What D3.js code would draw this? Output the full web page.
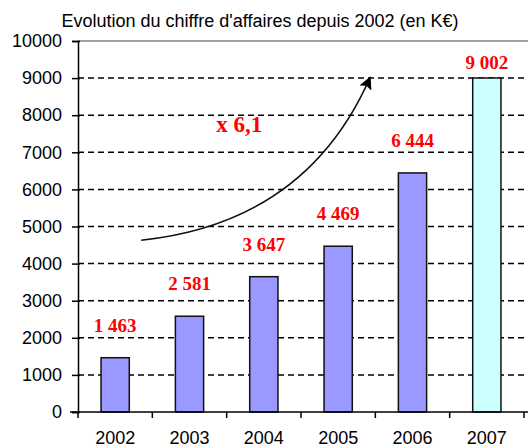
<!DOCTYPE html>
<html>
<head>
<meta charset="utf-8">
<script src="https://cdn.jsdelivr.net/npm/d3@7"></script>
<style>
  body { margin: 0; background: #fff; }
  svg { display: block; }
</style>
</head>
<body>
<div id="chart"></div>
<script>
const years = ['2002', '2003', '2004', '2005', '2006', '2007'];
const revenue = [1463, 2581, 3647, 4469, 6444, 9002];
const valueLabels = ['1 463', '2 581', '3 647', '4 469', '6 444', '9 002'];
const yTicks = [0, 1000, 2000, 3000, 4000, 5000, 6000, 7000, 8000, 9000, 10000];
const title = "Evolution du chiffre d'affaires depuis 2002 (en K\u20ac)";
const growthLabel = 'x 6,1';
// growth arrow, in data units: [band position (0..6), value]
const arrowStart = [0.85, 4630];
const arrowCtrl = [3.07, 5100];
const arrowEnd = [3.93, 9020];
const growthLabelAt = [2.17, 7550];

const W = 528, H = 447;
const margin = { top: 41, right: 4, bottom: 35, left: 78 };
const width = W - margin.left - margin.right;
const height = H - margin.top - margin.bottom;

const svg = d3.select('#chart').append('svg')
  .attr('width', W)
  .attr('height', H);

svg.append('text')
  .attr('x', 260)
  .attr('y', 27)
  .attr('text-anchor', 'middle')
  .attr('font-family', 'Liberation Sans, Arial, sans-serif')
  .attr('font-size', 18)
  .attr('fill', '#000')
  .text(title);

const g = svg.append('g')
  .attr('transform', `translate(${margin.left},${margin.top})`);

const x = d3.scaleBand()
  .domain(years)
  .range([0, width])
  .paddingInner(0.62)
  .paddingOuter(0.31);

const y = d3.scaleLinear()
  .domain([0, 10000])
  .range([height, 0]);

// continuous position along the category axis, for the annotation
const xPos = d3.scaleLinear().domain([0, years.length]).range([0, width]);

// gridlines
g.append('g')
  .selectAll('line')
  .data(yTicks.filter(d => d > 0 && d < 10000))
  .enter().append('line')
  .attr('x1', 0)
  .attr('x2', W - margin.left)
  .attr('y1', d => y(d))
  .attr('y2', d => y(d))
  .attr('stroke', '#000')
  .attr('stroke-width', 1.5)
  .attr('stroke-dasharray', '6,4');

// top border of plot area
g.append('line')
  .attr('x1', 0)
  .attr('x2', W - margin.left)
  .attr('y1', y(10000))
  .attr('y2', y(10000))
  .attr('stroke', '#808080')
  .attr('stroke-width', 1.5);

// bars
g.selectAll('rect.bar')
  .data(revenue)
  .enter().append('rect')
  .attr('class', 'bar')
  .attr('x', (d, i) => x(years[i]))
  .attr('y', d => y(d))
  .attr('width', x.bandwidth())
  .attr('height', d => height - y(d))
  .attr('fill', (d, i) => i === years.length - 1 ? '#CCFFFF' : '#9999FF')
  .attr('stroke', '#111')
  .attr('stroke-width', 1.5);

// value labels
g.selectAll('text.val')
  .data(revenue)
  .enter().append('text')
  .attr('class', 'val')
  .attr('x', (d, i) => x(years[i]) + x.bandwidth() / 2)
  .attr('y', (d, i) => y(d) - (i === years.length - 1 ? 9 : 26))
  .attr('text-anchor', 'middle')
  .attr('font-family', 'Liberation Serif, Times New Roman, serif')
  .attr('font-weight', 'bold')
  .attr('font-size', 19)
  .attr('fill', '#FF0000')
  .text((d, i) => valueLabels[i]);

// y axis
const yAxis = g.append('g')
  .call(d3.axisLeft(y).tickValues(yTicks).tickSize(6).tickPadding(10).tickFormat(d3.format('d')));
yAxis.select('.domain').attr('stroke', '#000').attr('stroke-width', 1.5);
yAxis.selectAll('.tick line').attr('stroke', '#000').attr('stroke-width', 1.5).attr('x2', -6).attr('x1', 2);
yAxis.selectAll('text')
  .attr('font-family', 'Liberation Sans, Arial, sans-serif')
  .attr('font-size', 18)
  .attr('fill', '#000');

// x axis: ticks at category boundaries
const xAxisG = g.append('g').attr('transform', `translate(0,${height})`);
xAxisG.append('line')
  .attr('x1', -8)
  .attr('x2', W - margin.left)
  .attr('stroke', '#000')
  .attr('stroke-width', 1.5);
xAxisG.selectAll('line.tk')
  .data(d3.range(years.length + 1))
  .enter().append('line')
  .attr('class', 'tk')
  .attr('x1', d => xPos(d))
  .attr('x2', d => xPos(d))
  .attr('y1', 0)
  .attr('y2', 6)
  .attr('stroke', '#000')
  .attr('stroke-width', 1.5);
xAxisG.selectAll('text')
  .data(years)
  .enter().append('text')
  .attr('x', d => x(d) + x.bandwidth() / 2)
  .attr('y', 32)
  .attr('text-anchor', 'middle')
  .attr('font-family', 'Liberation Sans, Arial, sans-serif')
  .attr('font-size', 18)
  .attr('fill', '#000')
  .text(d => d);

// growth arrow
svg.append('defs').append('marker')
  .attr('id', 'head')
  .attr('viewBox', '0 0 10 10')
  .attr('refX', 9)
  .attr('refY', 5)
  .attr('markerWidth', 13)
  .attr('markerHeight', 13)
  .attr('markerUnits', 'userSpaceOnUse')
  .attr('orient', 'auto')
  .append('path')
  .attr('d', 'M0,0 L10,5 L0,10 L2,5 z')
  .attr('fill', '#000');

const path = d3.path();
path.moveTo(xPos(arrowStart[0]), y(arrowStart[1]));
path.quadraticCurveTo(xPos(arrowCtrl[0]), y(arrowCtrl[1]), xPos(arrowEnd[0]), y(arrowEnd[1]));
g.append('path')
  .attr('d', path.toString())
  .attr('fill', 'none')
  .attr('stroke', '#111')
  .attr('stroke-width', 1.5)
  .attr('marker-end', 'url(#head)');

g.append('text')
  .attr('x', xPos(growthLabelAt[0]))
  .attr('y', y(growthLabelAt[1]))
  .attr('text-anchor', 'middle')
  .attr('font-family', 'Liberation Serif, Times New Roman, serif')
  .attr('font-weight', 'bold')
  .attr('font-size', 23)
  .attr('fill', '#FF0000')
  .text(growthLabel);
</script>
</body>
</html>
